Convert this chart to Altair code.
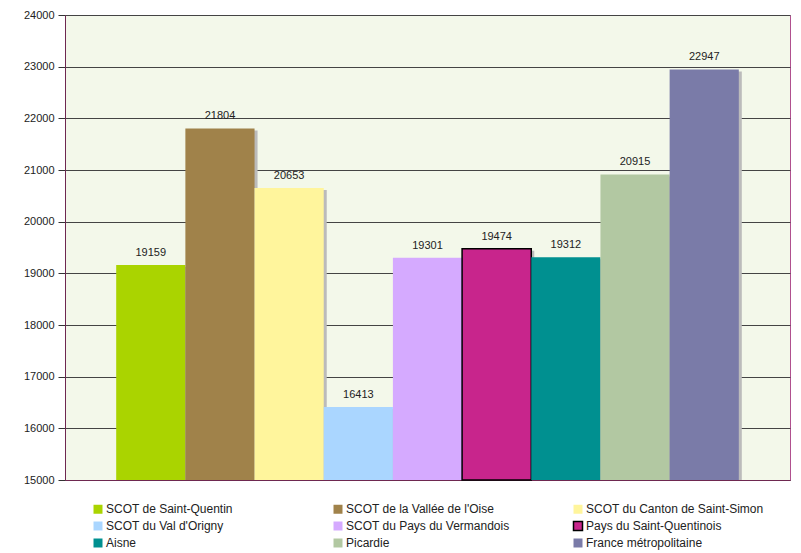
import altair as alt
import pandas as pd

categories = [
    "SCOT de Saint-Quentin",
    "SCOT de la Vallée de l'Oise",
    "SCOT du Canton de Saint-Simon",
    "SCOT du Val d'Origny",
    "SCOT du Pays du Vermandois",
    "Pays du Saint-Quentinois",
    "Aisne",
    "Picardie",
    "France métropolitaine",
]
values = [19159, 21804, 20653, 16413, 19301, 19474, 19312, 20915, 22947]
colors = ["#AAD400", "#A0824A", "#FFF59C", "#AAD6FF", "#D5AAFF",
          "#C8258C", "#009090", "#B2C8A2", "#7A7BA8"]
strokes = ["transparent"] * 5 + ["#000000"] + ["transparent"] * 3

df = pd.DataFrame({"cat": categories, "val": values})

x = alt.X("cat:N", sort=categories, title=None,
          scale=alt.Scale(paddingInner=0, paddingOuter=0.74),
          axis=alt.Axis(labels=False, ticks=False, domain=True,
                        domainColor="#6E2850", grid=False))
y = alt.Y("val:Q", title=None,
          scale=alt.Scale(domain=[15000, 24000], nice=False, zero=False),
          axis=alt.Axis(values=list(range(15000, 24001, 1000)), format="d",
                        labelFont="Liberation Sans", labelFontSize=11,
                        labelColor="#222222", tickSize=7, tickColor="#333333",
                        domainColor="#6E2850", gridColor="#444444",
                        gridWidth=1, labelPadding=4))

base = alt.Chart(df)

shadow = base.mark_bar(color="#BBBBBB", xOffset=3, x2Offset=3, yOffset=2,
                       clip=True).encode(
    x=x, y=y, y2=alt.datum(15000))

bars = base.mark_bar(strokeWidth=1.5).encode(
    x=x, y=y, y2=alt.datum(15000),
    fill=alt.Fill("cat:N", sort=categories,
                  scale=alt.Scale(domain=categories, range=colors),
                  legend=alt.Legend(title=None, orient="none", legendX=27,
                                    legendY=488, columns=3, direction="horizontal",
                                    symbolType="square", symbolSize=81,
                                    labelFont="Liberation Sans", labelFontSize=12,
                                    labelColor="#222222", labelLimit=300,
                                    columnPadding=46, rowPadding=1,
                                    labelOffset=2, gridAlign="all",
                                    symbolStrokeWidth=1.5)),
    stroke=alt.Stroke("cat:N", sort=categories,
                      scale=alt.Scale(domain=categories, range=strokes),
                      legend=None),
)

labels = base.mark_text(baseline="bottom", dy=-7, font="Liberation Sans",
                        fontSize=11, color="#222222").encode(
    x=x, y=y, text=alt.Text("val:Q", format="d"))

chart = alt.layer(shadow, bars, labels).properties(
    width=725, height=465,
    autosize=alt.AutoSizeParams(type="none"),
    padding={"left": 57, "top": 7, "right": 3, "bottom": 72},
    background="white",
).configure_view(
    fill="#F3F8EA", stroke="#B0508F", strokeWidth=1
)

chart.save("out.html", embed_options={"renderer": "svg", "actions": False})
